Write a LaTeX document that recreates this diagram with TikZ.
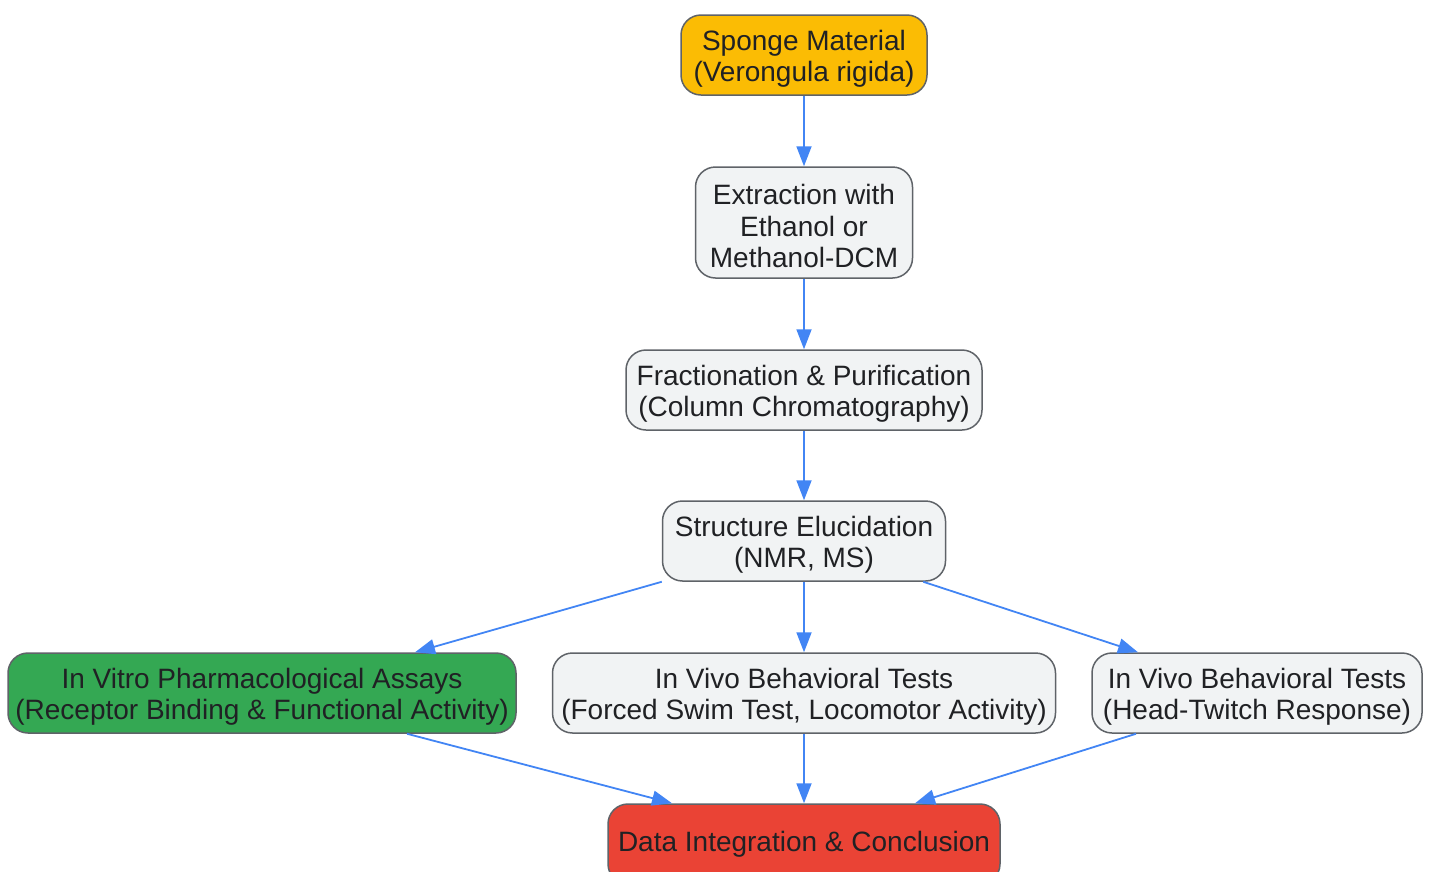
\documentclass[tikz,border=0pt]{standalone}
\usepackage{fontspec}
\setmainfont{Liberation Sans}
\usetikzlibrary{arrows.meta,calc}
\definecolor{edgeblue}{HTML}{4285F4}
\definecolor{boxgray}{HTML}{F1F3F4}
\definecolor{bordergray}{HTML}{5F6368}
\definecolor{txt}{HTML}{202124}
\definecolor{orangefill}{HTML}{FBBC04}
\definecolor{greenfill}{HTML}{34A853}
\definecolor{redfill}{HTML}{EA4335}
\newcommand{\topstrut}{\rule{0pt}{28pt}}
\begin{document}
\begin{tikzpicture}[x=1pt,y=-1pt,
  box/.style={draw=bordergray, line width=1.5pt, fill=boxgray, rounded corners=20pt,
    align=center, inner sep=0pt, minimum height=80pt, text=txt,
    font=\fontsize{28}{31.5}\selectfont},
  link/.style={draw=edgeblue, line width=1.8pt, -{Triangle[length=20pt,width=15pt]}}]
\useasboundingbox (0,0) rectangle (1431,871);
\node[box, fill=orangefill, minimum width=246pt] (sp) at (804,55) {\topstrut Sponge Material\\(Verongula rigida)};
\node[box, minimum width=217pt, minimum height=111pt] (ex) at (804,222.5) {\topstrut Extraction with\\Ethanol or\\Methanol-DCM};
\node[box, minimum width=356pt] (fr) at (804,390) {\topstrut Fractionation \& Purification\\(Column Chromatography)};
\node[box, minimum width=283pt] (st) at (804,541) {\topstrut Structure Elucidation\\(NMR, MS)};
\node[box, fill=greenfill, minimum width=508pt] (vi) at (262,693) {\topstrut In Vitro Pharmacological Assays\\(Receptor Binding \& Functional Activity)};
\node[box, minimum width=503pt] (v1) at (804,693) {\topstrut In Vivo Behavioral Tests\\(Forced Swim Test, Locomotor Activity)};
\node[box, minimum width=330pt] (v2) at (1257,693) {\topstrut In Vivo Behavioral Tests\\(Head-Twitch Response)};
\node[box, fill=redfill, minimum width=392pt] (da) at (804,844) {Data Integration \& Conclusion};
\draw[link] (sp.south) -- (ex.north);
\draw[link] (ex.south) -- (fr.north);
\draw[link] (fr.south) -- (st.north);
\draw[link] (st.south west) -- ($(vi.north)+(153,0)$);
\draw[link] (st.south) -- (v1.north);
\draw[link] ($(st.south east)+(-23,0)$) -- ($(v2.north)+(-119,0)$);
\draw[link] ($(vi.south)+(145,0)$) -- ($(da.north)+(-132,0)$);
\draw[link] (v1.south) -- (da.north);
\draw[link] ($(v2.south)+(-121,0)$) -- ($(da.north)+(111,0)$);
\end{tikzpicture}
\end{document}
